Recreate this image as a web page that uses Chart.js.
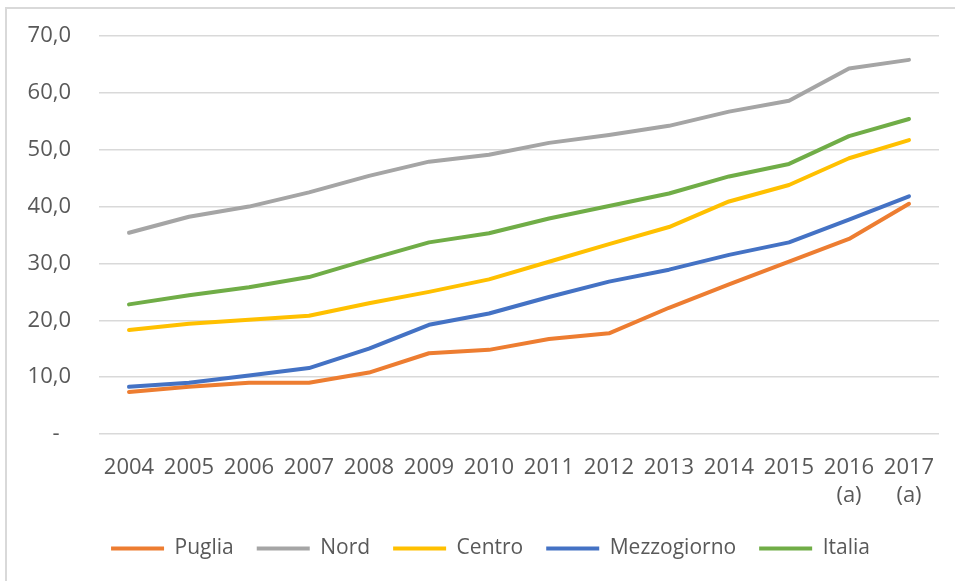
<!DOCTYPE html>
<html>
<head>
<meta charset="utf-8">
<script src="https://cdn.jsdelivr.net/npm/chart.js@4/dist/chart.umd.min.js"></script>
<style>
  html, body { margin: 0; padding: 0; background: #fff; }
  #wrap { width: 955px; height: 581px; position: relative; }
</style>
</head>
<body>
<div id="wrap"><canvas id="c"></canvas></div>
<script>
const categories = ['2004','2005','2006','2007','2008','2009','2010','2011','2012','2013','2014','2015',['2016','(a)'],['2017','(a)']];
const puglia      = [7.4, 8.3, 9.0, 9.0, 10.8, 14.2, 14.8, 16.7, 17.7, 22.2, 26.3, 30.3, 34.3, 40.5];
const nord        = [35.4, 38.2, 40.0, 42.5, 45.4, 47.9, 49.1, 51.2, 52.6, 54.2, 56.7, 58.6, 64.3, 65.8];
const centro      = [18.3, 19.4, 20.1, 20.8, 23.0, 25.0, 27.2, 30.3, 33.4, 36.4, 40.9, 43.8, 48.5, 51.7];
const mezzogiorno = [8.3, 9.0, 10.3, 11.6, 15.0, 19.2, 21.2, 24.1, 26.8, 28.9, 31.5, 33.7, 37.7, 41.8];
const italia      = [22.8, 24.4, 25.8, 27.6, 30.7, 33.7, 35.3, 37.9, 40.1, 42.3, 45.3, 47.5, 52.4, 55.4];
const seriesNames = ['Puglia','Nord','Centro','Mezzogiorno','Italia'];

const colors = ['#ED7D31','#A5A5A5','#FFC000','#4472C4','#70AD47'];
const FONT = '"Open Sans", "DejaVu Sans", sans-serif';
const TXT = '#595959';

function ds(label, data, color, order) {
  return {
    label, data, order,
    borderColor: color, backgroundColor: color,
    borderWidth: 4, pointRadius: 0, pointHoverRadius: 0,
    tension: 0, borderCapStyle: 'round', borderJoinStyle: 'round', fill: false
  };
}

const frame = {
  id: 'frame',
  beforeDraw(chart) {
    const ctx = chart.ctx;
    ctx.save();
    ctx.fillStyle = '#ffffff';
    ctx.fillRect(0, 0, chart.width, chart.height);
    ctx.strokeStyle = '#D9D9D9';
    ctx.lineWidth = 2;
    ctx.beginPath();
    ctx.moveTo(6, chart.height);
    ctx.lineTo(6, 8);
    ctx.lineTo(chart.width, 8);
    ctx.stroke();
    ctx.restore();
  }
};

const legendShift = {
  id: 'legendShift',
  afterLayout(chart) {
    const lg = chart.legend;
    if (lg) { lg.left += 21; lg.right += 21; }
  }
};

new Chart(document.getElementById('c'), {
  type: 'line',
  data: {
    labels: categories,
    datasets: [
      ds(seriesNames[0], puglia, colors[0], 5),
      ds(seriesNames[1], nord, colors[1], 4),
      ds(seriesNames[2], centro, colors[2], 3),
      ds(seriesNames[3], mezzogiorno, colors[3], 2),
      ds(seriesNames[4], italia, colors[4], 1)
    ]
  },
  options: {
    responsive: true,
    maintainAspectRatio: false,
    animation: false,
    devicePixelRatio: 1,
    layout: { padding: { left: 0, right: 16, top: 36, bottom: 12 } },
    plugins: {
      legend: {
        position: 'bottom',
        labels: {
          boxWidth: 53, boxHeight: 4,
          color: TXT,
          font: { family: FONT, size: 21 },
          padding: 23,
          generateLabels(chart) {
            return chart.data.datasets.map((d, i) => ({
              text: d.label, fillStyle: d.borderColor, strokeStyle: d.borderColor,
              lineWidth: 0, hidden: false, datasetIndex: i, fontColor: TXT
            }));
          }
        }
      },
      tooltip: { enabled: false }
    },
    scales: {
      x: {
        offset: true,
        grid: { display: false, drawTicks: false },
        border: { display: false },
        afterFit(scale) { scale.height = 81; },
        ticks: { color: TXT, font: { family: FONT, size: 22, lineHeight: 1.3 }, padding: 19, maxRotation: 0, autoSkip: false }
      },
      y: {
        min: 0, max: 70,
        grid: { color: '#D9D9D9', lineWidth: 1.5, drawTicks: true, tickLength: 22, tickColor: 'rgba(0,0,0,0)' },
        border: { display: false },
        afterFit(scale) { scale.width = 99; },
        ticks: {
          stepSize: 10, padding: 6, color: TXT,
          font: { family: FONT, size: 22 },
          callback(v) { return v === 0 ? '-  ' : v.toFixed(1).replace('.', ','); }
        }
      }
    }
  },
  plugins: [frame, legendShift]
});
</script>
</body>
</html>
